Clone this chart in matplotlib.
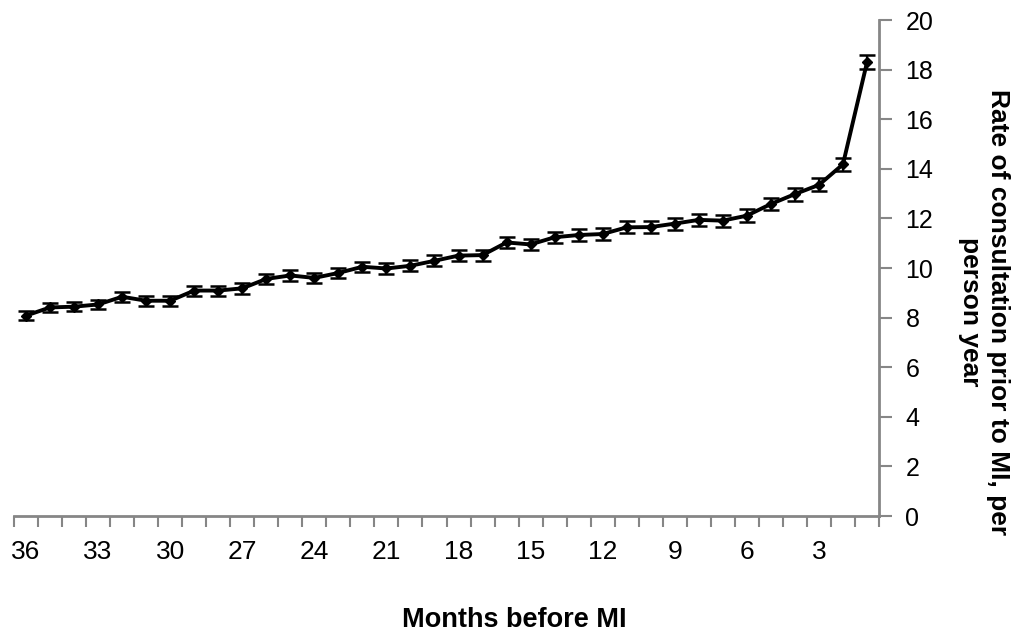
import matplotlib
matplotlib.use("Agg")
import matplotlib.pyplot as plt
import numpy as np

# data
months = list(range(36, 0, -1))
rate = [8.08, 8.41, 8.44, 8.53, 8.84, 8.68, 8.68, 9.09, 9.09, 9.18,
        9.56, 9.70, 9.60, 9.80, 10.05, 9.98, 10.09, 10.29, 10.50, 10.52,
        11.03, 10.95, 11.24, 11.33, 11.37, 11.64, 11.65, 11.79, 11.94, 11.91,
        12.11, 12.58, 12.98, 13.35, 14.18, 18.29]
err = [0.18, 0.19, 0.19, 0.19, 0.20, 0.20, 0.20, 0.20, 0.20, 0.21,
       0.21, 0.21, 0.21, 0.21, 0.21, 0.22, 0.22, 0.22, 0.22, 0.22,
       0.23, 0.23, 0.23, 0.23, 0.23, 0.24, 0.24, 0.24, 0.24, 0.24,
       0.25, 0.25, 0.26, 0.26, 0.25, 0.28]
tick_months = [36, 33, 30, 27, 24, 21, 18, 15, 12, 9, 6, 3]
y_ticks = [0, 2, 4, 6, 8, 10, 12, 14, 16, 18, 20]

FONT = ['Liberation Sans', 'DejaVu Sans']
GREY = '#868686'

fig = plt.figure(figsize=(10.23, 6.39), dpi=100)
ax = fig.add_axes([14 / 1023, 1 - 516 / 639, (879 - 14) / 1023, (516 - 20) / 639])

x = np.arange(len(months))
ax.errorbar(x, rate, yerr=err, color='black', lw=2.8, marker='D', ms=5,
            ecolor='black', elinewidth=1.6, capsize=6, capthick=1.8, zorder=3)

ax.set_xlim(-0.5, len(months) - 0.5)
ax.set_ylim(0, 20)

# category axis: tick marks on boundaries, labels on centres
pos = [months.index(m) for m in tick_months]
ax.set_xticks(pos)
ax.set_xticklabels([str(m) for m in tick_months], family=FONT, fontsize=19)
ax.tick_params(axis='x', which='major', length=0, pad=17)
ax.set_xticks(np.arange(-0.5, len(months)), minor=True)
ax.tick_params(axis='x', which='minor', length=8, width=1.5, color=GREY, direction='out')

ax.yaxis.tick_right()
ax.set_yticks(y_ticks)
ax.set_yticklabels([str(v) for v in y_ticks], family=FONT, fontsize=18)
ax.tick_params(axis='y', length=9, width=1.5, color=GREY, direction='out', pad=10)

for s in ['left', 'top']:
    ax.spines[s].set_visible(False)
for s in ['right', 'bottom']:
    ax.spines[s].set_color(GREY)
    ax.spines[s].set_linewidth(2)

fig.text(514 / 1023, 1 - 620 / 639, 'Months before MI', ha='center', va='center',
         family=FONT, fontsize=19.5, fontweight='bold')
fig.text(984 / 1023, 1 - 312 / 639, 'Rate of consultation prior to MI, per\nperson year',
         ha='center', va='center', rotation=270, family=FONT, fontsize=19,
         fontweight='bold', linespacing=1.25, multialignment='center')

fig.savefig('out.png', dpi=100)
